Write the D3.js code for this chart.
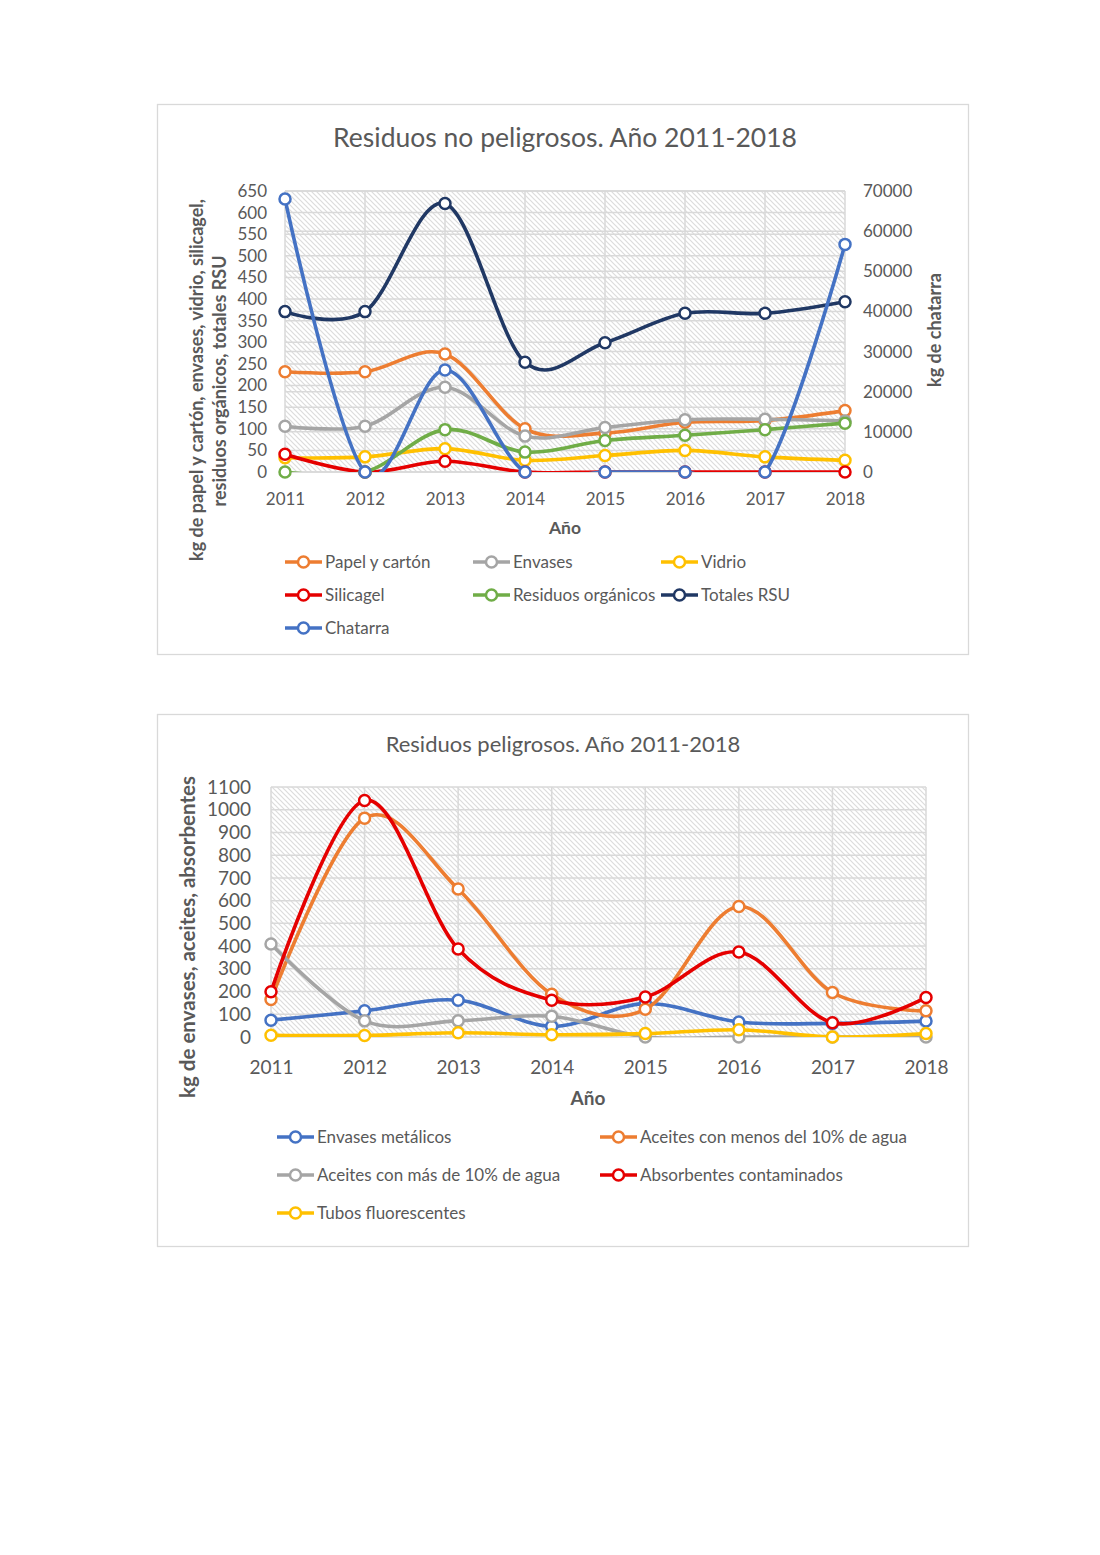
<!DOCTYPE html>
<html>
<head>
<meta charset="utf-8">
<script src="https://cdn.jsdelivr.net/npm/d3@7"></script>
<style>
  body { margin: 0; background: #fff; }
  text { font-family: Lato, 'Open Sans', sans-serif; fill: #595959; }
</style>
</head>
<body>
<svg id="page" width="1100" height="1555"></svg>
<script>
/* global d3 */

var years = ['2011', '2012', '2013', '2014', '2015', '2016', '2017', '2018']

// residuos no peligrosos (kg)
var papelCarton = [232, 232, 273, 100, 90, 115, 119, 142]
var envases = [106, 106, 196, 83, 103, 121, 122, 118]
var vidrio = [33, 35, 54, 27, 38, 50, 35, 27]
var silicagel = [41, 0, 25, 0, 0, 0, 0, 0]
var organicos = [0, 0, 98, 46, 73, 85, 98, 113]
var totalesRSU = [371, 371, 621, 254, 299, 367, 367, 394]
var chatarra = [68000, 0, 25400, 0, 0, 0, 0, 56700]
var ticksNoPelig = [0, 50, 100, 150, 200, 250, 300, 350, 400, 450, 500, 550, 600, 650]
var ticksChatarra = [0, 10000, 20000, 30000, 40000, 50000, 60000, 70000]

// residuos peligrosos (kg)
var envasesMetalicos = [74, 115, 162, 47, 147, 66, 60, 70]
var aceitesMenos10 = [165, 963, 651, 188, 122, 574, 196, 115]
var aceitesMas10 = [409, 71, 71, 91, 0, 0, 0, 0]
var absorbentes = [199, 1041, 387, 162, 176, 374, 63, 174]
var tubosFluor = [8, 7, 19, 10, 15, 32, 0, 15]
var ticksPelig = [0, 100, 200, 300, 400, 500, 600, 700, 800, 900, 1000, 1100]

var svg = d3.select('#page')

// hatch used as plot background
var defs = svg.append('defs')
var pat = defs.append('pattern')
    .attr('id', 'hatch')
    .attr('patternUnits', 'userSpaceOnUse')
    .attr('width', 5)
    .attr('height', 5)
pat.append('rect').attr('width', 5).attr('height', 5).attr('fill', '#fff')
pat.append('path')
    .attr('d', 'M-1,-1 L6,6 M-1,4 L1,6 M4,-1 L6,1')
    .attr('stroke', '#dcdcdc')
    .attr('stroke-width', 1.2)

var nChart = 0

function drawChart (cfg) {
  var g = svg.append('g')
  var clipId = 'clip' + (nChart++)

  g.append('rect')
      .attr('x', cfg.box.x + 0.5).attr('y', cfg.box.y + 0.5)
      .attr('width', cfg.box.w).attr('height', cfg.box.h)
      .attr('fill', '#fff').attr('stroke', '#d9d9d9').attr('stroke-width', 1.3)

  g.append('text')
      .attr('x', cfg.title.x).attr('y', cfg.title.y)
      .attr('text-anchor', 'middle')
      .style('font-size', cfg.title.size + 'px')
      .text(cfg.title.text)

  var p = cfg.plot
  var x = d3.scalePoint().domain(years).range([p.left, p.right])
  var yL = d3.scaleLinear().domain([0, cfg.leftTicks[cfg.leftTicks.length - 1]]).range([p.bottom, p.top])
  var yR = null
  if (cfg.rightTicks) {
    yR = d3.scaleLinear().domain([0, cfg.rightTicks[cfg.rightTicks.length - 1]]).range([p.bottom, p.top])
  }

  // lines get clipped to the plot area, like Excel does
  defs.append('clipPath').attr('id', clipId)
      .append('rect')
      .attr('x', p.left).attr('y', p.top)
      .attr('width', p.right - p.left).attr('height', p.bottom - p.top)

  g.append('rect')
      .attr('x', p.left).attr('y', p.top)
      .attr('width', p.right - p.left).attr('height', p.bottom - p.top)
      .attr('fill', 'url(#hatch)')

  // gridlines
  var grid = g.append('g').attr('stroke', '#d9d9d9').attr('stroke-width', 1.5)
  grid.selectAll('.hl').data(cfg.leftTicks).join('line')
      .attr('x1', p.left).attr('x2', p.right)
      .attr('y1', d => yL(d)).attr('y2', d => yL(d))
  if (yR) {
    grid.selectAll('.hr').data(cfg.rightTicks).join('line')
        .attr('x1', p.left).attr('x2', p.right)
        .attr('y1', d => yR(d)).attr('y2', d => yR(d))
  }
  grid.selectAll('.v').data(years).join('line')
      .attr('x1', d => x(d)).attr('x2', d => x(d))
      .attr('y1', p.top).attr('y2', p.bottom)

  // axes
  var fmt = d3.format('d')
  var axL = g.append('g')
      .attr('transform', `translate(${p.left - cfg.tickGap},0)`)
      .call(d3.axisLeft(yL).tickValues(cfg.leftTicks).tickFormat(fmt).tickSize(0).tickPadding(0))
  var axX = g.append('g')
      .attr('transform', `translate(0,${p.bottom + cfg.xGap})`)
      .call(d3.axisBottom(x).tickSize(0).tickPadding(0))
  var axes = [axL, axX]
  if (yR) {
    axes.push(g.append('g')
        .attr('transform', `translate(${p.right + cfg.tickGap},0)`)
        .call(d3.axisRight(yR).tickValues(cfg.rightTicks).tickFormat(fmt).tickSize(0).tickPadding(0)))
  }
  axes.forEach(a => {
    a.select('.domain').remove()
    a.selectAll('text')
        .style('font-size', cfg.tickSize + 'px')
        .style('font-family', null)
        .attr('fill', '#595959')
  })

  // axis titles
  g.append('text')
      .attr('x', cfg.xTitle.x).attr('y', cfg.xTitle.y)
      .attr('text-anchor', 'middle')
      .style('font-size', cfg.xTitle.size + 'px').style('font-weight', 'bold')
      .text('Año')
  cfg.yTitles.forEach(t => {
    g.append('text')
        .attr('transform', `translate(${t.x},${t.y}) rotate(-90)`)
        .attr('text-anchor', 'middle')
        .style('font-size', t.size + 'px').style('font-weight', 'bold')
        .text(t.text)
  })

  // series
  cfg.series.forEach(s => {
    var yy = s.right ? yR : yL
    var line = d3.line()
        .x((d, i) => x(years[i]))
        .y(d => yy(d))
        .curve(d3.curveCardinal.tension(0))
    var sg = g.append('g')
    sg.append('path')
        .attr('d', line(s.values))
        .attr('clip-path', `url(#${clipId})`)
        .attr('fill', 'none')
        .attr('stroke', s.color)
        .attr('stroke-width', 3.6)
        .attr('stroke-linejoin', 'round')
    sg.selectAll('circle').data(s.values).join('circle')
        .attr('cx', (d, i) => x(years[i]))
        .attr('cy', d => yy(d))
        .attr('r', 5.5)
        .attr('fill', '#fff')
        .attr('stroke', s.color)
        .attr('stroke-width', 2.5)
  })

  // legend
  var lg = cfg.legend
  cfg.series.forEach((s, i) => {
    var lx = lg.cols[i % lg.cols.length]
    var ly = lg.rows[Math.floor(i / lg.cols.length)]
    var it = g.append('g').attr('transform', `translate(${lx},${ly})`)
    it.append('line').attr('x1', 0).attr('x2', 37)
        .attr('stroke', s.color).attr('stroke-width', 3.6)
    it.append('circle').attr('cx', 18.5).attr('r', 5.5)
        .attr('fill', '#fff').attr('stroke', s.color).attr('stroke-width', 2.5)
    it.append('text').attr('x', 40).attr('y', 6)
        .style('font-size', lg.size + 'px')
        .text(s.name)
  })
}

drawChart({
  box: {x: 157, y: 104, w: 811, h: 550},
  title: {text: 'Residuos no peligrosos. Año 2011-2018', x: 565, y: 147, size: 26.5},
  plot: {left: 285, right: 845, top: 191, bottom: 472},
  leftTicks: ticksNoPelig,
  rightTicks: ticksChatarra,
  tickGap: 18,
  xGap: 21,
  tickSize: 17,
  xTitle: {x: 565, y: 534, size: 17.5},
  yTitles: [
    {text: 'kg de papel y cartón, envases, vidrio, silicagel,', x: 203, y: 380, size: 18},
    {text: 'residuos orgánicos, totales RSU', x: 226, y: 381, size: 18},
    {text: 'kg de chatarra', x: 941, y: 330, size: 18}
  ],
  series: [
    {name: 'Papel y cartón', values: papelCarton, color: '#ED7D31'},
    {name: 'Envases', values: envases, color: '#A5A5A5'},
    {name: 'Vidrio', values: vidrio, color: '#FFC000'},
    {name: 'Silicagel', values: silicagel, color: '#E50000'},
    {name: 'Residuos orgánicos', values: organicos, color: '#70AD47'},
    {name: 'Totales RSU', values: totalesRSU, color: '#203864'},
    {name: 'Chatarra', values: chatarra, color: '#4472C4', right: true}
  ],
  legend: {cols: [285, 473, 661], rows: [562, 595, 628], size: 17}
})

drawChart({
  box: {x: 157, y: 714, w: 811, h: 532},
  title: {text: 'Residuos peligrosos. Año 2011-2018', x: 563, y: 752, size: 22},
  plot: {left: 271, right: 926, top: 787, bottom: 1037},
  leftTicks: ticksPelig,
  tickGap: 20,
  xGap: 23,
  tickSize: 19,
  xTitle: {x: 588, y: 1105, size: 19},
  yTitles: [
    {text: 'kg de envases, aceites, absorbentes', x: 195, y: 937, size: 20.5}
  ],
  series: [
    {name: 'Envases metálicos', values: envasesMetalicos, color: '#4472C4'},
    {name: 'Aceites con menos del 10% de agua', values: aceitesMenos10, color: '#ED7D31'},
    {name: 'Aceites con más de 10% de agua', values: aceitesMas10, color: '#A5A5A5'},
    {name: 'Absorbentes contaminados', values: absorbentes, color: '#E50000'},
    {name: 'Tubos fluorescentes', values: tubosFluor, color: '#FFC000'}
  ],
  legend: {cols: [277, 600], rows: [1137, 1175, 1213], size: 17}
})
</script>
</body>
</html>
